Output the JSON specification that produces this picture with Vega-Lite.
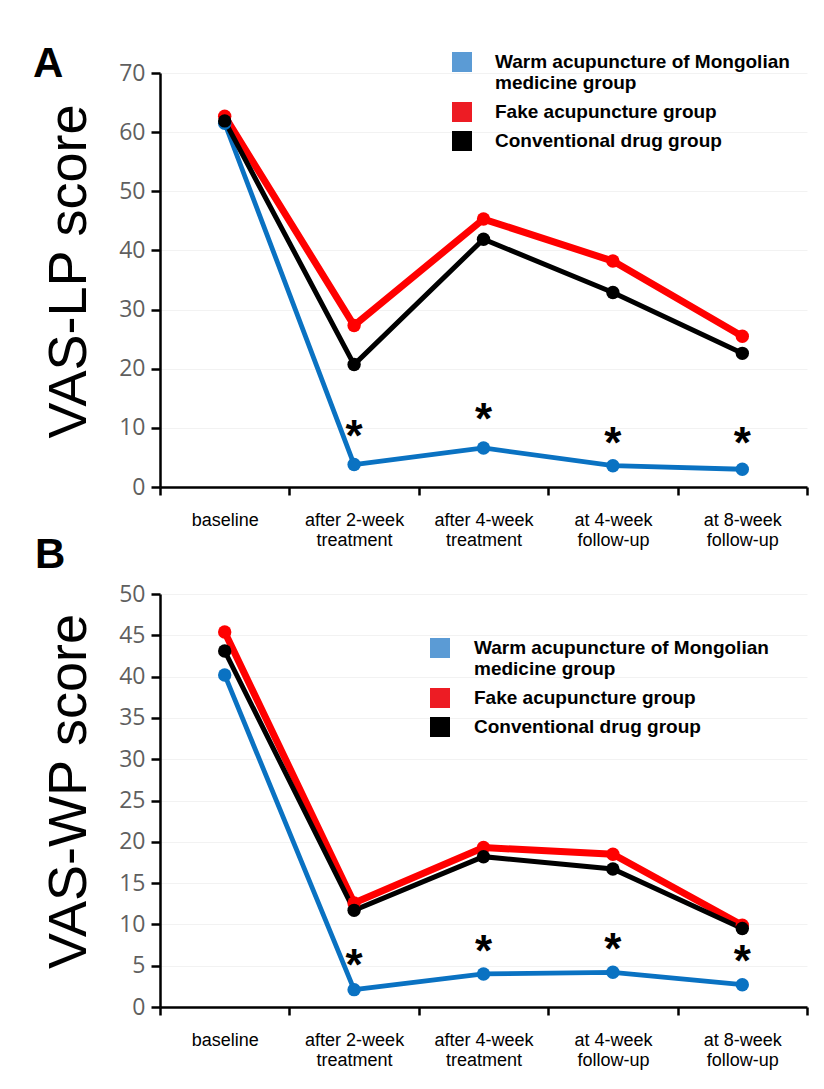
{
  "$schema": "https://vega.github.io/schema/vega-lite/v6.json",
  "autosize": {"type": "none"},
  "padding": {"left": 160, "top": 73, "right": 664, "bottom": 1016},
  "background": "white",
  "bounds": "flush",
  "spacing": 107,
  "config": {
    "view": {"stroke": null},
    "axis": {
      "domainColor": "#000",
      "domainWidth": 2.5,
      "tickColor": "#000",
      "tickWidth": 2.5
    }
  },
  "datasets": {
    "scores": [
      {"panel": "A", "time": "baseline", "group": "Warm acupuncture of Mongolian medicine group", "value": 61.5},
      {"panel": "A", "time": "after 2-week treatment", "group": "Warm acupuncture of Mongolian medicine group", "value": 3.8},
      {"panel": "A", "time": "after 4-week treatment", "group": "Warm acupuncture of Mongolian medicine group", "value": 6.6},
      {"panel": "A", "time": "at 4-week follow-up", "group": "Warm acupuncture of Mongolian medicine group", "value": 3.6},
      {"panel": "A", "time": "at 8-week follow-up", "group": "Warm acupuncture of Mongolian medicine group", "value": 3.0},
      {"panel": "A", "time": "baseline", "group": "Fake acupuncture group", "value": 62.7},
      {"panel": "A", "time": "after 2-week treatment", "group": "Fake acupuncture group", "value": 27.3},
      {"panel": "A", "time": "after 4-week treatment", "group": "Fake acupuncture group", "value": 45.3},
      {"panel": "A", "time": "at 4-week follow-up", "group": "Fake acupuncture group", "value": 38.2},
      {"panel": "A", "time": "at 8-week follow-up", "group": "Fake acupuncture group", "value": 25.5},
      {"panel": "A", "time": "baseline", "group": "Conventional drug group", "value": 61.9},
      {"panel": "A", "time": "after 2-week treatment", "group": "Conventional drug group", "value": 20.7},
      {"panel": "A", "time": "after 4-week treatment", "group": "Conventional drug group", "value": 41.9},
      {"panel": "A", "time": "at 4-week follow-up", "group": "Conventional drug group", "value": 32.9},
      {"panel": "A", "time": "at 8-week follow-up", "group": "Conventional drug group", "value": 22.6},
      {"panel": "B", "time": "baseline", "group": "Warm acupuncture of Mongolian medicine group", "value": 40.2},
      {"panel": "B", "time": "after 2-week treatment", "group": "Warm acupuncture of Mongolian medicine group", "value": 2.1},
      {"panel": "B", "time": "after 4-week treatment", "group": "Warm acupuncture of Mongolian medicine group", "value": 4.0},
      {"panel": "B", "time": "at 4-week follow-up", "group": "Warm acupuncture of Mongolian medicine group", "value": 4.2},
      {"panel": "B", "time": "at 8-week follow-up", "group": "Warm acupuncture of Mongolian medicine group", "value": 2.7},
      {"panel": "B", "time": "baseline", "group": "Fake acupuncture group", "value": 45.4},
      {"panel": "B", "time": "after 2-week treatment", "group": "Fake acupuncture group", "value": 12.6},
      {"panel": "B", "time": "after 4-week treatment", "group": "Fake acupuncture group", "value": 19.3},
      {"panel": "B", "time": "at 4-week follow-up", "group": "Fake acupuncture group", "value": 18.5},
      {"panel": "B", "time": "at 8-week follow-up", "group": "Fake acupuncture group", "value": 9.9},
      {"panel": "B", "time": "baseline", "group": "Conventional drug group", "value": 43.1},
      {"panel": "B", "time": "after 2-week treatment", "group": "Conventional drug group", "value": 11.7},
      {"panel": "B", "time": "after 4-week treatment", "group": "Conventional drug group", "value": 18.2},
      {"panel": "B", "time": "at 4-week follow-up", "group": "Conventional drug group", "value": 16.7},
      {"panel": "B", "time": "at 8-week follow-up", "group": "Conventional drug group", "value": 9.5}
    ],
    "stars": [
      {"panel": "A", "time": "after 2-week treatment", "value": 10.0},
      {"panel": "A", "time": "after 4-week treatment", "value": 12.9},
      {"panel": "A", "time": "at 4-week follow-up", "value": 8.8},
      {"panel": "A", "time": "at 8-week follow-up", "value": 8.8},
      {"panel": "B", "time": "after 2-week treatment", "value": 6.0},
      {"panel": "B", "time": "after 4-week treatment", "value": 7.7},
      {"panel": "B", "time": "at 4-week follow-up", "value": 8.0},
      {"panel": "B", "time": "at 8-week follow-up", "value": 6.5}
    ]
  },
  "vconcat": [
    {
      "width": 647,
      "height": 414,
      "title": {"text": "A", "anchor": "start", "frame": "group", "font": "Liberation Sans", "fontSize": 42, "fontWeight": "bold", "color": "#000", "baseline": "alphabetic", "dx": -127, "offset": -67},
      "encoding": {
        "x": {
          "field": "time", "type": "nominal",
          "scale": {"type": "band", "domain": ["baseline", "after 2-week treatment", "after 4-week treatment", "at 4-week follow-up", "at 8-week follow-up"], "paddingInner": 0, "paddingOuter": 0},
          "axis": {"title": null, "tickBand": "extent", "grid": false, "labelExpr": "split(replace(datum.label, 'week ', 'week|'), '|')", "labelFont": "Liberation Sans", "labelFontSize": 18, "labelLineHeight": 20, "labelColor": "#000", "labelPadding": 16, "labelBaseline": "top", "tickSize": 8, "labelAngle": 0}
        },
        "y": {
          "field": "value", "type": "quantitative",
          "scale": {"domain": [0, 70], "nice": false},
          "axis": {"title": "VAS-LP score", "titleFont": "Liberation Sans", "titleFontSize": 54, "titleFontWeight": "normal", "titleColor": "#000", "titlePadding": 22, "titleY": 198, "values": [0, 10, 20, 30, 40, 50, 60, 70], "labelFont": "Open Sans", "labelFontSize": 23, "labelColor": "#5f5f5f", "labelPadding": 6, "tickSize": 9, "grid": true, "gridColor": "#f2f2f2", "gridWidth": 1}
        }
      },
      "layer": [
        {
          "data": {"name": "scores"},
          "transform": [{"filter": "datum.panel === 'A'"}],
          "mark": {"type": "square", "size": 4, "opacity": 1},
          "encoding": {
            "color": {"field": "group", "type": "nominal",
              "scale": {"domain": ["Warm acupuncture of Mongolian medicine group", "Fake acupuncture group", "Conventional drug group"], "range": ["#5b9bd5", "#ed1c24", "#000000"]},
              "legend": {"title": null, "orient": "none", "legendX": 292, "legendY": -21, "symbolType": "square", "symbolSize": 400, "symbolOpacity": 1, "symbolStrokeWidth": 0, "labelFont": "Liberation Sans", "labelFontSize": 19, "labelFontWeight": "bold", "labelColor": "#000", "labelLimit": 500, "labelOffset": 23, "rowPadding": 9, "labelExpr": "split(replace(datum.label, 'Mongolian ', 'Mongolian|'), '|')"}
            }
          }
        },
        {
          "data": {"name": "scores"},
          "transform": [{"filter": "datum.panel === 'A' && datum.group === 'Warm acupuncture of Mongolian medicine group'"}],
          "mark": {"type": "line", "color": "#0a72c2", "strokeWidth": 4.8}
        },
        {
          "data": {"name": "scores"},
          "transform": [{"filter": "datum.panel === 'A' && datum.group === 'Fake acupuncture group'"}],
          "mark": {"type": "line", "color": "#ff0000", "strokeWidth": 7}
        },
        {
          "data": {"name": "scores"},
          "transform": [{"filter": "datum.panel === 'A' && datum.group === 'Conventional drug group'"}],
          "mark": {"type": "line", "color": "#000000", "strokeWidth": 5}
        },
        {
          "data": {"name": "scores"},
          "transform": [{"filter": "datum.panel === 'A'"}],
          "mark": {"type": "circle", "size": 180, "opacity": 1},
          "encoding": {
            "color": {"field": "group", "type": "nominal", "legend": null,
              "scale": {"domain": ["Warm acupuncture of Mongolian medicine group", "Fake acupuncture group", "Conventional drug group"], "range": ["#0a72c2", "#ff0000", "#000000"]}}
          }
        },
        {
          "data": {"name": "stars"},
          "transform": [{"filter": "datum.panel === 'A'"}],
          "mark": {"type": "text", "text": "*", "font": "Liberation Sans", "fontSize": 44, "fontWeight": "bold", "baseline": "middle", "align": "center", "dy": 10, "color": "#000"}
        }
      ],
      "resolve": {"scale": {"color": "independent"}, "legend": {"color": "independent"}}
    },
    {
      "width": 647,
      "height": 413,
      "title": {"text": "B", "anchor": "start", "frame": "group", "font": "Liberation Sans", "fontSize": 42, "fontWeight": "bold", "color": "#000", "baseline": "alphabetic", "dx": -125, "offset": -27},
      "encoding": {
        "x": {
          "field": "time", "type": "nominal",
          "scale": {"type": "band", "domain": ["baseline", "after 2-week treatment", "after 4-week treatment", "at 4-week follow-up", "at 8-week follow-up"], "paddingInner": 0, "paddingOuter": 0},
          "axis": {"title": null, "tickBand": "extent", "grid": false, "labelExpr": "split(replace(datum.label, 'week ', 'week|'), '|')", "labelFont": "Liberation Sans", "labelFontSize": 18, "labelLineHeight": 20, "labelColor": "#000", "labelPadding": 16, "labelBaseline": "top", "tickSize": 8, "labelAngle": 0}
        },
        "y": {
          "field": "value", "type": "quantitative",
          "scale": {"domain": [0, 50], "nice": false},
          "axis": {"title": "VAS-WP score", "titleFont": "Liberation Sans", "titleFontSize": 54, "titleFontWeight": "normal", "titleColor": "#000", "titlePadding": 22, "titleY": 197, "values": [0, 5, 10, 15, 20, 25, 30, 35, 40, 45, 50], "labelFont": "Open Sans", "labelFontSize": 23, "labelColor": "#5f5f5f", "labelPadding": 6, "tickSize": 9, "grid": true, "gridColor": "#f2f2f2", "gridWidth": 1}
        }
      },
      "layer": [
        {
          "data": {"name": "scores"},
          "transform": [{"filter": "datum.panel === 'B'"}],
          "mark": {"type": "square", "size": 4, "opacity": 1},
          "encoding": {
            "color": {"field": "group", "type": "nominal",
              "scale": {"domain": ["Warm acupuncture of Mongolian medicine group", "Fake acupuncture group", "Conventional drug group"], "range": ["#5b9bd5", "#ed1c24", "#000000"]},
              "legend": {"title": null, "orient": "none", "legendX": 270, "legendY": 44, "symbolType": "square", "symbolSize": 400, "symbolOpacity": 1, "symbolStrokeWidth": 0, "labelFont": "Liberation Sans", "labelFontSize": 19, "labelFontWeight": "bold", "labelColor": "#000", "labelLimit": 500, "labelOffset": 24, "rowPadding": 9, "labelExpr": "split(replace(datum.label, 'Mongolian ', 'Mongolian|'), '|')"}
            }
          }
        },
        {
          "data": {"name": "scores"},
          "transform": [{"filter": "datum.panel === 'B' && datum.group === 'Warm acupuncture of Mongolian medicine group'"}],
          "mark": {"type": "line", "color": "#0a72c2", "strokeWidth": 4.8}
        },
        {
          "data": {"name": "scores"},
          "transform": [{"filter": "datum.panel === 'B' && datum.group === 'Fake acupuncture group'"}],
          "mark": {"type": "line", "color": "#ff0000", "strokeWidth": 7}
        },
        {
          "data": {"name": "scores"},
          "transform": [{"filter": "datum.panel === 'B' && datum.group === 'Conventional drug group'"}],
          "mark": {"type": "line", "color": "#000000", "strokeWidth": 5}
        },
        {
          "data": {"name": "scores"},
          "transform": [{"filter": "datum.panel === 'B'"}],
          "mark": {"type": "circle", "size": 180, "opacity": 1},
          "encoding": {
            "color": {"field": "group", "type": "nominal", "legend": null,
              "scale": {"domain": ["Warm acupuncture of Mongolian medicine group", "Fake acupuncture group", "Conventional drug group"], "range": ["#0a72c2", "#ff0000", "#000000"]}}
          }
        },
        {
          "data": {"name": "stars"},
          "transform": [{"filter": "datum.panel === 'B'"}],
          "mark": {"type": "text", "text": "*", "font": "Liberation Sans", "fontSize": 44, "fontWeight": "bold", "baseline": "middle", "align": "center", "dy": 10, "color": "#000"}
        }
      ],
      "resolve": {"scale": {"color": "independent"}, "legend": {"color": "independent"}}
    }
  ]
}
